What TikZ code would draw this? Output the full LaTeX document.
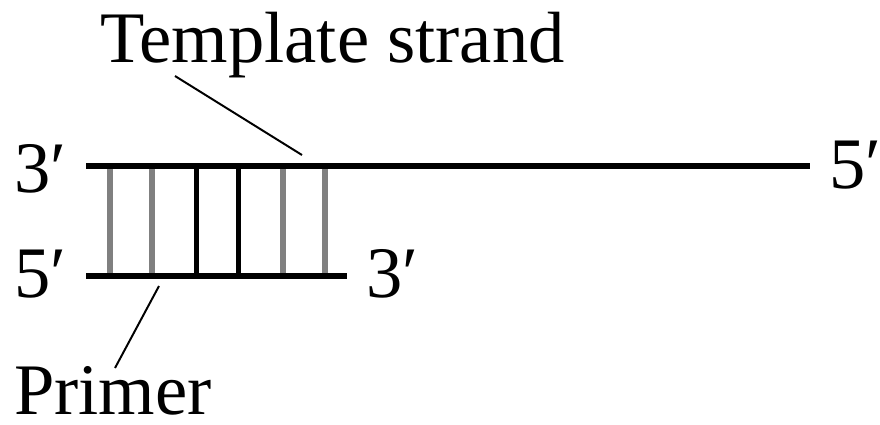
\documentclass[tikz,border=0pt]{standalone}
\usepackage{fontspec}
\setmainfont{Liberation Serif}
\definecolor{runggray}{RGB}{128,128,128}
\begin{document}
\begin{tikzpicture}[x=0.025cm,y=-0.025cm,
  lbl/.style={inner sep=0pt,outer sep=0pt,text depth=0pt,font=\fontsize{51.6pt}{52pt}\selectfont},
  strandline/.style={line width=3.6pt,black},
  rungblack/.style={line width=3.6pt,black},
  runggrey/.style={line width=3.6pt,runggray},
  pointer/.style={line width=1.4pt,black}]
\useasboundingbox (0,0) rectangle (880,424);
% strands
\coordinate (t1) at (86,166);
\coordinate (t2) at (810,166);
\coordinate (b1) at (86,276);
\coordinate (b2) at (347,276);
% rungs
\foreach \x/\s in {110/runggrey,152/runggrey,196.5/rungblack,238.5/rungblack,283/runggrey,325/runggrey}{
  \draw[\s] (\x,167) -- (\x,275);
}
\draw[strandline] (t1) -- (t2);
\draw[strandline] (b1) -- (b2);
% labels
\node[lbl,anchor=base] (tmpl) at (332.5,62) {Template strand};
\node[lbl,anchor=base west] (prim) at (14,414) {Primer};
\node[lbl,anchor=base west] (l3) at (14,192) {3′};
\node[lbl,anchor=base west] (l5) at (14,297) {5′};
\node[lbl,anchor=base west] (r3) at (366,297) {3′};
\node[lbl,anchor=base west] (r5) at (829,188) {5′};
% pointers
\coordinate (tp1) at (175,76);
\coordinate (tp2) at (302,155);
\coordinate (pp1) at (159,286);
\coordinate (pp2) at (115,368);
\draw[pointer] (tp1) -- (tp2);
\draw[pointer] (pp1) -- (pp2);
\end{tikzpicture}
\end{document}
